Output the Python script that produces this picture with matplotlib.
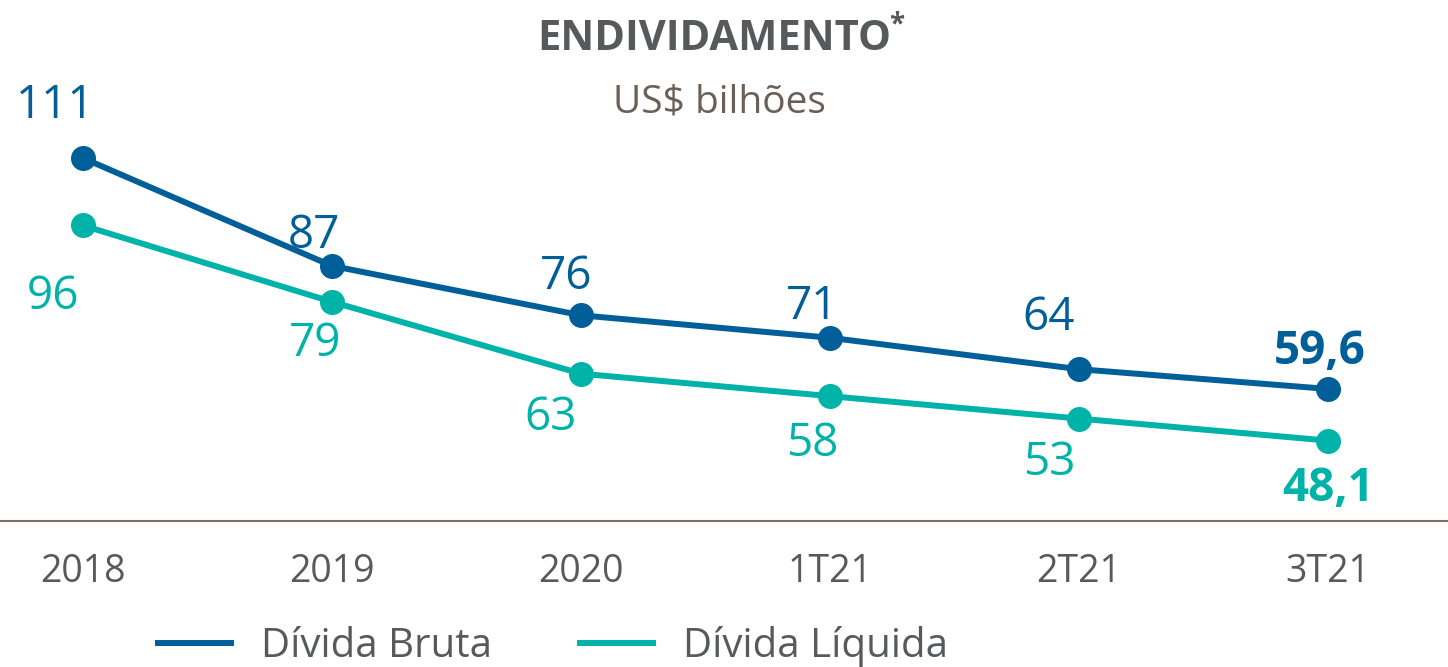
import numpy as np
import matplotlib
matplotlib.use("Agg")
import matplotlib.pyplot as plt

# data
periods = ["2018", "2019", "2020", "1T21", "2T21", "3T21"]
bruta = [111, 87, 76, 71, 64, 59.6]
liquida = [96, 79, 63, 58, 53, 48.1]
bruta_labels = ["111", "87", "76", "71", "64", "59,6"]
liquida_labels = ["96", "79", "63", "58", "53", "48,1"]

# label offsets in pixels, point -> text baseline (layout only)
bruta_off = [(-28, 40), (-18, 18), (-15, 26), (-18, 19), (-30, 39), (-8, 25)]
liquida_off = [(-30, -84), (-17, -54), (-30, -56), (-18, -60), (-30, -56), (0, -60)]

BLUE = "#005f99"
TEAL = "#00b3a8"
GRAY = "#58595b"
BROWN = "#6b6057"

plt.rcParams["font.family"] = ["Open Sans", "DejaVu Sans"]

fig = plt.figure(figsize=(14.48, 6.67), dpi=100)
ax = fig.add_axes([0, 0.2189, 1, 0.7811])
x = np.arange(len(periods))

ax.plot(x, bruta, color=BLUE, lw=4.3, marker="o", ms=17, label="Dívida Bruta")
ax.plot(x, liquida, color=TEAL, lw=4.3, marker="o", ms=17, label="Dívida Líquida")

for i in range(len(x)):
    bold = "bold" if i == len(x) - 1 else "normal"
    ax.annotate(bruta_labels[i], (x[i], bruta[i]), xytext=bruta_off[i],
                textcoords="offset pixels", ha="center", va="baseline",
                fontsize=33, color=BLUE, fontweight=bold)
    ax.annotate(liquida_labels[i], (x[i], liquida[i]), xytext=liquida_off[i],
                textcoords="offset pixels", ha="center", va="baseline",
                fontsize=33, color=TEAL, fontweight=bold)

ax.set_xlim(-0.333, 5.482)
ax.set_ylim(30.2, 146.2)
ax.set_xticks(x)
ax.set_xticklabels(periods, fontsize=27, color=GRAY)
ax.tick_params(axis="x", length=0, pad=23)
ax.set_yticks([])
for s in ["top", "left", "right"]:
    ax.spines[s].set_visible(False)
ax.spines["bottom"].set_color("#7a7068")
ax.spines["bottom"].set_linewidth(1.5)

title = fig.text(0.493, 0.925, "ENDIVIDAMENTO", ha="center", va="baseline",
                 fontsize=30, fontweight="bold", color=GRAY)
fig.text(0.497, 0.832, "US$ bilhões", ha="center", va="baseline",
         fontsize=28, color=BROWN)

# superscript asterisk right after the title
fig.canvas.draw()
bb = title.get_window_extent().transformed(fig.transFigure.inverted())
fig.text(bb.x1 - 0.001, 0.963, "*", ha="left", va="center",
         fontsize=20, fontweight="bold", color=GRAY)

leg = fig.legend(loc="center", bbox_to_anchor=(0.382, 0.030), ncol=2,
                 frameon=False, fontsize=29, handlelength=1.8,
                 handletextpad=0.75, columnspacing=2.2)
for h in leg.legend_handles:
    h.set_marker("")
    h.set_linewidth(4.3)
for t in leg.get_texts():
    t.set_color(GRAY)

fig.savefig("out.png", dpi=100)
